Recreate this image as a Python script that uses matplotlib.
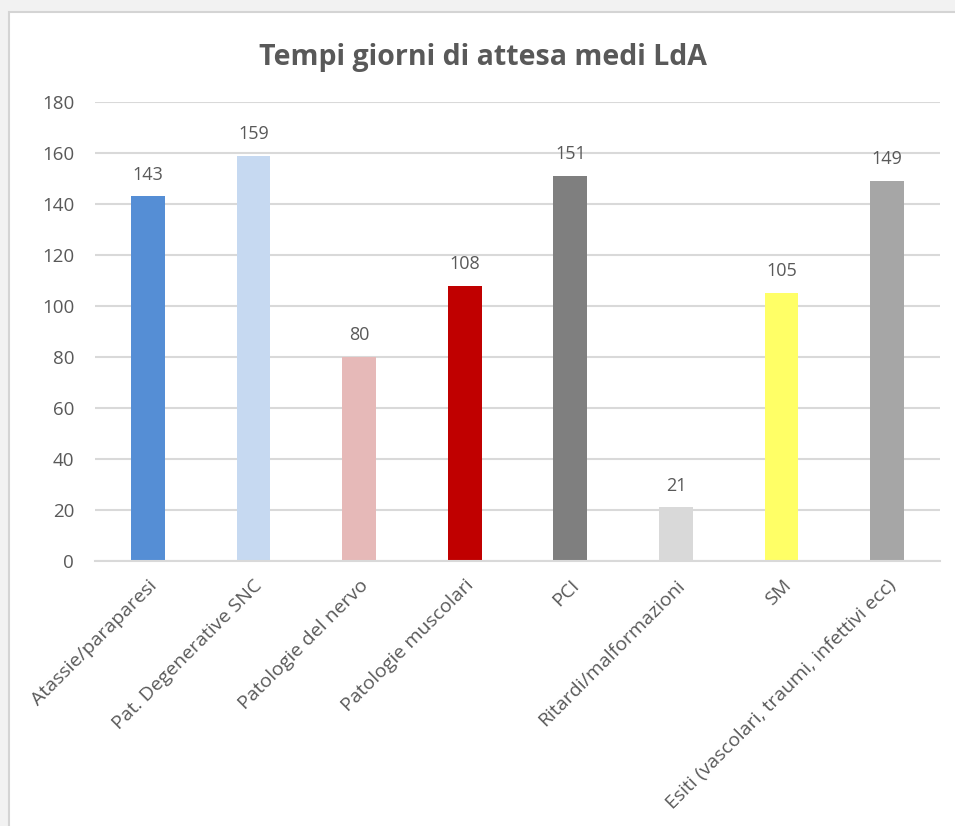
import matplotlib.pyplot as plt
from matplotlib.patches import Rectangle

categories = ["Atassie/paraparesi", "Pat. Degenerative SNC", "Patologie del nervo",
              "Patologie muscolari", "PCI", "Ritardi/malformazioni", "SM",
              "Esiti (vascolari, traumi, infettivi ecc)"]
values = [143, 159, 80, 108, 151, 21, 105, 149]
colors = ["#558ED5", "#C6D9F1", "#E6B9B8", "#C00000", "#7F7F7F", "#D9D9D9",
          "#FFFF66", "#A6A6A6"]

TXT = "#595959"
plt.rcParams["font.family"] = ["Open Sans", "DejaVu Sans"]

fig = plt.figure(figsize=(9.55, 8.26), dpi=100)
fig.patch.set_facecolor("#F2F2F2")
# white chart area with thin grey frame line (screenshot border)
fig.patches.append(Rectangle((9 / 955, -0.01), 1, 1.01 - 12 / 826, transform=fig.transFigure,
                             facecolor="white", edgecolor="#D4D4D4", lw=1.5, zorder=0))

ax = fig.add_axes([95 / 955, 1 - 561 / 826, 845 / 955, 459 / 826])
ax.set_zorder(2)
ax.set_facecolor("none")
x = range(len(categories))
bars = ax.bar(x, values, width=0.32, color=colors, zorder=2)
for b, v in zip(bars, values):
    ax.text(b.get_x() + b.get_width() / 2, v + 5, str(v), ha="center", va="bottom",
            fontsize=13, color=TXT)

ax.set_xlim(-0.5, len(categories) - 0.5)
ax.set_ylim(0, 180)
ax.set_yticks(range(0, 181, 20))
ax.yaxis.grid(True, color="#D9D9D9", lw=1.5, zorder=0)
ax.set_axisbelow(True)
for s in ["top", "right", "left"]:
    ax.spines[s].set_visible(False)
ax.spines["bottom"].set_color("#D9D9D9")
ax.spines["bottom"].set_linewidth(1.5)
ax.tick_params(axis="both", length=0, colors=TXT, labelsize=13.5)
ax.tick_params(axis="y", pad=15)
ax.tick_params(axis="x", pad=11, labelsize=14)
ax.set_xticks(list(x))
ax.set_xticklabels(categories, rotation=45, ha="right", rotation_mode="anchor")

fig.text(483 / 955, 1 - 57 / 826, "Tempi giorni di attesa medi LdA", ha="center",
         va="center", fontsize=20.5, fontweight="bold", color=TXT)

fig.savefig("out.png", dpi=100, facecolor=fig.get_facecolor())
